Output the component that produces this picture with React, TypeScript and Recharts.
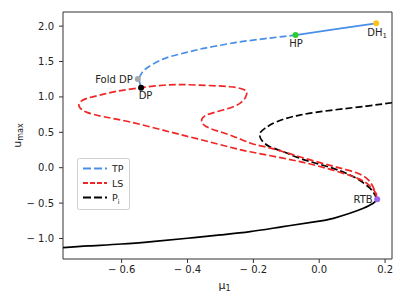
import { ComposedChart, Line, Scatter, XAxis, YAxis, ReferenceArea, Legend } from "recharts";

// TP branch (dashed part, DP -> HP)
const tpDashMu = [-0.541, -0.545, -0.546, -0.537, -0.52, -0.49, -0.454, -0.4, -0.352, -0.3, -0.251, -0.2, -0.15, -0.11, -0.072];
const tpDashU = [1.13, 1.2, 1.27, 1.35, 1.42, 1.5, 1.568, 1.632, 1.686, 1.73, 1.771, 1.803, 1.832, 1.853, 1.874];
// TP branch (solid part, HP -> DH1)
const tpSolidMu = [-0.072, 0.05, 0.172];
const tpSolidU = [1.874, 1.957, 2.04];

// LS branch, starts and ends at RTB
const lsMu = [0.176, 0.169, 0.144, 0.093, 0.043, -0.008, -0.06, -0.109, -0.16, -0.21, -0.271, -0.332, -0.357, -0.342, -0.292, -0.241, -0.221, -0.226, -0.271, -0.372, -0.472, -0.593, -0.654, -0.705, -0.725, -0.73, -0.725, -0.705, -0.654, -0.573, -0.474, -0.372, -0.271, -0.21, -0.11, -0.008, 0.093, 0.144, 0.172, 0.176];
const lsU = [-0.446, -0.33, -0.15, -0.042, 0.02, 0.085, 0.155, 0.226, 0.29, 0.35, 0.462, 0.556, 0.65, 0.744, 0.815, 0.909, 1.027, 1.097, 1.144, 1.168, 1.165, 1.097, 1.04, 0.98, 0.932, 0.885, 0.838, 0.782, 0.72, 0.645, 0.53, 0.41, 0.29, 0.225, 0.135, 0.03, -0.11, -0.22, -0.36, -0.446];

// P_i branch, unstable (dashed) and stable (solid)
const piDashMu = [0.221, 0.144, 0.043, -0.059, -0.129, -0.165, -0.18, -0.175, -0.15, -0.109, -0.059, -0.008, 0.042, 0.08, 0.113, 0.154, 0.172, 0.176];
const piDashU = [0.918, 0.871, 0.815, 0.744, 0.65, 0.556, 0.486, 0.391, 0.297, 0.226, 0.133, 0.06, -0.009, -0.075, -0.15, -0.29, -0.41, -0.446];
const piSolidMu = [0.176, 0.164, 0.134, 0.093, 0.043, -0.01, -0.11, -0.21, -0.3, -0.4, -0.5, -0.6, -0.7, -0.778];
const piSolidU = [-0.446, -0.503, -0.573, -0.644, -0.715, -0.763, -0.833, -0.904, -0.95, -0.997, -1.04, -1.078, -1.105, -1.13];

// special points
const pointNames = ["Fold DP", "DP", "HP", "DH1", "RTB"];
const pointMu = [-0.551, -0.541, -0.072, 0.173, 0.176];
const pointU = [1.253, 1.13, 1.874, 2.04, -0.446];

const xTicks = [-0.6, -0.4, -0.2, 0, 0.2];
const yTicks = [-1, -0.5, 0, 0.5, 1, 1.5, 2];

const BLUE = "#4a8fe7";
const RED = "#f02626";
const BLACK = "#000000";
const FONT = "DejaVu Sans, sans-serif";

const zip = (xs: number[], ys: number[]) => xs.map((x, i) => ({ x, y: ys[i] }));

const pointStyle: Record<string, { fill: string; anchor: string; dx: number; dy: number }> = {
  "Fold DP": { fill: "#a8a8a8", anchor: "end", dx: -5, dy: 3.5 },
  DP: { fill: "#000000", anchor: "middle", dx: 4.5, dy: 11 },
  HP: { fill: "#2ecc2e", anchor: "middle", dx: 0.5, dy: 12 },
  DH1: { fill: "#fcc419", anchor: "middle", dx: 1, dy: 13 },
  RTB: { fill: "#9b66ee", anchor: "end", dx: -4.5, dy: 3.5 },
};

const fmt = (v: number) => (v < 0 ? "\u2212 " + Math.abs(v).toFixed(1) : v.toFixed(1));

const PointShape = (props: any) => {
  const { cx, cy, payload } = props;
  const s = pointStyle[payload.name];
  return (
    <g>
      <circle cx={cx} cy={cy} r={3} fill={s.fill} />
      <text x={cx + s.dx} y={cy + s.dy} textAnchor={s.anchor} fontSize={10} fontFamily={FONT} fill="#222">
        {payload.name === "DH1" ? (
          <>
            DH<tspan fontSize={7} dy={1.5}>1</tspan>
          </>
        ) : (
          payload.name
        )}
      </text>
    </g>
  );
};

const legendItems = [
  { label: "TP", color: BLUE, dash: "8 3" },
  { label: "LS", color: RED, dash: "5 2" },
  { label: "P", sub: "i", color: BLACK, dash: "8 3" },
];

const LegendBox = () => (
  <svg width={54} height={53} style={{ display: "block" }}>
    <rect x={0.5} y={0.5} width={52} height={51} rx={2} fill="#fff" stroke="#d0d0d0" />
    {legendItems.map((it, i) => {
      const y = 10.5 + i * 14.5;
      return (
        <g key={it.label}>
          <line x1={6} x2={30} y1={y} y2={y} stroke={it.color} strokeWidth={1.8} strokeDasharray={it.dash} />
          <text x={35} y={y + 3.5} fontSize={9.5} fontFamily={FONT} fill="#222">
            {it.label}
            {it.sub && (
              <tspan fontSize={6.5} dy={2.5}>
                {it.sub}
              </tspan>
            )}
          </text>
        </g>
      );
    })}
  </svg>
);

const XLabel = (props: any) => {
  const { x, y, width } = props.viewBox;
  return (
    <text x={x + width / 2 - 3} y={y + 30} textAnchor="middle" fontSize={11} fontFamily={FONT} fill="#222">
      μ<tspan fontSize={8} dy={2}>1</tspan>
    </text>
  );
};

const YLabel = (props: any) => {
  const { y, height } = props.viewBox;
  const cx = 21;
  const cy = y + height / 2;
  return (
    <text x={cx} y={cy} textAnchor="middle" fontSize={11} fontFamily={FONT} fill="#222" transform={`rotate(-90 ${cx} ${cy})`}>
      u<tspan fontSize={8} dy={2}>max</tspan>
    </text>
  );
};

export default function App() {
  const xDomain: [number, number] = [-0.778, 0.221];
  const yDomain: [number, number] = [-1.29, 2.2];
  const tick = { fontSize: 10, fill: "#222", fontFamily: FONT };

  return (
    <div style={{ position: "absolute", left: 0, top: 0, background: "#fff" }}>
      <ComposedChart width={407} height={305} margin={{ top: 12, right: 15, bottom: 0, left: 0 }}>
        <XAxis
          type="number"
          dataKey="x"
          domain={xDomain}
          ticks={xTicks}
          allowDataOverflow
          tickFormatter={fmt}
          tick={tick}
          tickSize={4}
          tickMargin={3}
          height={46}
          axisLine={false}
          tickLine={{ stroke: "#333" }}
          label={<XLabel />}
        />
        <YAxis
          type="number"
          dataKey="y"
          domain={yDomain}
          ticks={yTicks}
          allowDataOverflow
          tickFormatter={fmt}
          tick={tick}
          tickSize={4}
          tickMargin={5}
          width={63}
          axisLine={false}
          tickLine={{ stroke: "#333" }}
          label={<YLabel />}
        />
        <ReferenceArea x1={xDomain[0]} x2={xDomain[1]} y1={yDomain[0]} y2={yDomain[1]} fill="none" stroke="#333" strokeWidth={1} />
        <Legend
          content={<LegendBox />}
          layout="horizontal"
          verticalAlign="middle"
          wrapperStyle={{ left: 77, top: 158, width: 54, height: 53 }}
        />
        <Line data={zip(piSolidMu, piSolidU)} dataKey="y" type="natural" stroke={BLACK} strokeWidth={1.7} dot={false} isAnimationActive={false} legendType="none" />
        <Line data={zip(piDashMu, piDashU)} dataKey="y" type="natural" stroke={BLACK} strokeWidth={1.7} strokeDasharray="7 3" dot={false} isAnimationActive={false} />
        <Line data={zip(lsMu, lsU)} dataKey="y" type="natural" stroke={RED} strokeWidth={1.7} strokeDasharray="7 3" dot={false} isAnimationActive={false} />
        <Line data={zip(tpDashMu, tpDashU)} dataKey="y" type="natural" stroke={BLUE} strokeWidth={1.7} strokeDasharray="7 3" dot={false} isAnimationActive={false} />
        <Line data={zip(tpSolidMu, tpSolidU)} dataKey="y" type="linear" stroke={BLUE} strokeWidth={1.7} dot={false} isAnimationActive={false} />
        <Scatter
          data={pointNames.map((name, i) => ({ name, x: pointMu[i], y: pointU[i] }))}
          dataKey="y"
          shape={<PointShape />}
          isAnimationActive={false}
        />
      </ComposedChart>
    </div>
  );
}
